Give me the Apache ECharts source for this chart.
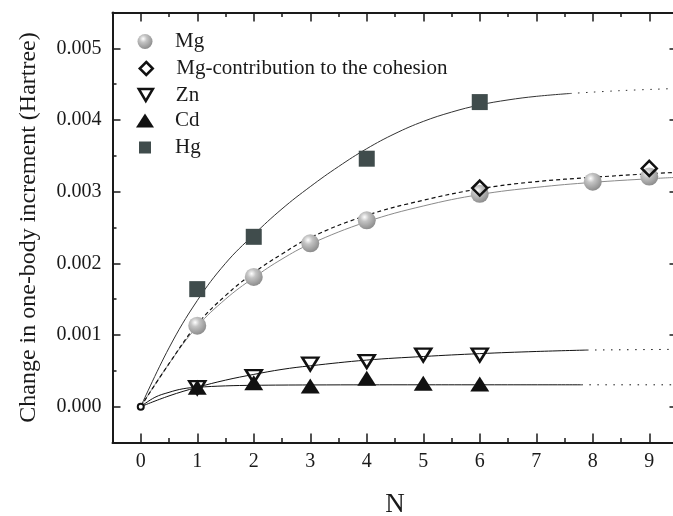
<!DOCTYPE html>
<html>
<head>
<meta charset="utf-8">
<script src="https://cdn.jsdelivr.net/npm/echarts@6/dist/echarts.min.js"></script>
<style>
html, body { margin: 0; padding: 0; background: #fff; }
#main { width: 673px; height: 516px; }
</style>
</head>
<body>
<div id="main"></div>
<script>
// tick values
const xTicks = [0, 1, 2, 3, 4, 5, 6, 7, 8, 9];
const yTicks = [0, 0.001, 0.002, 0.003, 0.004, 0.005];

// measured points
const mgX = [1, 2, 3, 4, 6, 8, 9];
const mgY = [0.00113, 0.00181, 0.00228, 0.0026, 0.00297, 0.00314, 0.00321];
const cohX = [6, 9];
const cohY = [0.00305, 0.003325];
const znX = [1, 2, 3, 4, 5, 6];
const znY = [0.000265, 0.00042, 0.000595, 0.00063, 0.00072, 0.00072];
const cdX = [1, 2, 3, 4, 5, 6];
const cdY = [0.00027, 0.000335, 0.00029, 0.000396, 0.000326, 0.000317];
const hgX = [1, 2, 4, 6];
const hgY = [0.00164, 0.00237, 0.00346, 0.00425];
const originX = [0];
const originY = [0];

// fitted curves
const hgFitX = [0, 0.5, 1, 1.5, 2, 2.5, 3, 3.5, 4, 4.5, 5, 5.5, 6, 6.5, 7, 7.6];
const hgFitY = [0, 0.00082, 0.00148, 0.002, 0.0024, 0.00276, 0.00307, 0.00335, 0.0036, 0.00381, 0.00398, 0.00411, 0.00421, 0.00428, 0.00433, 0.00437];
const hgTailX = [7.6, 8.5, 9.5];
const hgTailY = [0.00437, 0.00441, 0.00444];

const mgFitX = [0, 0.5, 1, 1.5, 2, 2.5, 3, 4, 5, 6, 7, 8, 9, 9.5];
const mgFitY = [0, 0.0006, 0.00112, 0.0015, 0.0018, 0.00206, 0.00227, 0.00258, 0.0028, 0.00296, 0.00306, 0.00313, 0.00318, 0.0032];
const cohFitX = [0, 0.5, 1, 1.5, 2, 2.5, 3, 4, 5, 6, 7, 8, 9, 9.5];
const cohFitY = [0, 0.0006, 0.00115, 0.00155, 0.00187, 0.00213, 0.00236, 0.00267, 0.00288, 0.00304, 0.00314, 0.0032, 0.00325, 0.00327];

const znFitX = [0, 0.5, 1, 1.5, 2, 2.5, 3, 4, 5, 6, 7, 7.9];
const znFitY = [0, 0.00015, 0.00027, 0.00037, 0.00045, 0.00052, 0.00057, 0.00065, 0.0007, 0.00074, 0.00077, 0.00079];
const znTailX = [7.9, 9.5];
const znTailY = [0.00079, 0.0008];

const cdFitX = [0, 0.25, 0.5, 0.75, 1, 1.5, 2, 3, 5, 7.8];
const cdFitY = [0, 0.00013, 0.0002, 0.00025, 0.00027, 0.00029, 0.000298, 0.000303, 0.000305, 0.000305];
const cdTailX = [7.8, 9.5];
const cdTailY = [0.000305, 0.000305];

const FONT = 'Liberation Serif, Times New Roman, serif';
const INK = '#1a1a1a';

function pts(xs, ys) {
    return xs.map((x, i) => [x, ys[i]]);
}

let chart = echarts.init(document.getElementById('main'));

const sphere = new echarts.graphic.RadialGradient(0.38, 0.32, 0.68, [
    { offset: 0, color: '#ffffff' },
    { offset: 0.35, color: '#c4c4c4' },
    { offset: 1, color: '#8e8e8e' }
]);

function axisX(pos, major) {
    return {
        type: 'value', position: pos, min: -0.5, max: 9.5, interval: 0.5,
        axisLine: { show: !major, onZero: false, lineStyle: { color: INK, width: 2 } },
        axisTick: major
            ? { inside: true, length: 9, customValues: xTicks, lineStyle: { color: INK, width: 1.5 } }
            : { inside: true, length: 4.5, lineStyle: { color: INK, width: 1.5 } },
        axisLabel: (major && pos === 'bottom')
            ? { customValues: xTicks, margin: 9, fontFamily: FONT, fontSize: 20, color: INK }
            : { show: false },
        splitLine: { show: false },
        name: (major && pos === 'bottom') ? 'N' : '',
        nameLocation: 'middle', nameGap: 49,
        nameTextStyle: { fontFamily: FONT, fontSize: 27, color: INK }
    };
}

function axisY(pos, major) {
    return {
        type: 'value', position: pos, min: -0.0005, max: 0.0055, interval: 0.0005,
        axisLine: { show: !major, onZero: false, lineStyle: { color: INK, width: 2 } },
        axisTick: major
            ? { inside: true, length: 8, customValues: yTicks, lineStyle: { color: INK, width: 1.5 } }
            : { inside: true, length: 4, lineStyle: { color: INK, width: 1.5 } },
        axisLabel: (major && pos === 'left')
            ? { customValues: yTicks, margin: 11, fontFamily: FONT, fontSize: 20, color: INK,
                formatter: v => v.toFixed(3) }
            : { show: false },
        splitLine: { show: false },
        name: (major && pos === 'left') ? 'Change in one-body increment (Hartree)' : '',
        nameLocation: 'middle', nameGap: 72, nameRotate: 90,
        nameTextStyle: { fontFamily: FONT, fontSize: 24, color: INK }
    };
}

function legendAt(name, cy, w, h, border) {
    return {
        data: [name], left: 145 - w / 2, top: cy - h / 2, padding: 0,
        itemWidth: w, itemHeight: h, selectedMode: false,
        itemStyle: { borderWidth: border },
        textStyle: { fontFamily: FONT, fontSize: 21, color: INK,
            padding: [0, 0, 0, 175 - (145 + w / 2 + 5)] }
    };
}

function curve(xs, ys, color, type, width) {
    return {
        type: 'line', data: pts(xs, ys), smooth: 0.4,
        showSymbol: false, symbol: 'none', silent: true, z: 1,
        lineStyle: { color: color, width: width || 1, type: type || 'solid' }
    };
}

const dots = [1.5, 6.5];

let option = {
    animation: false,
    backgroundColor: '#fff',
    grid: { left: 112.5, top: 12.5, width: 565, height: 430, containLabel: false, outerBoundsMode: 'none' },
    xAxis: [axisX('bottom', false), axisX('bottom', true), axisX('top', false), axisX('top', true)],
    yAxis: [axisY('left', false), axisY('left', true), axisY('right', false), axisY('right', true)],
    legend: [
        legendAt('Mg', 38.5, 15, 15, 0),
        legendAt('Mg-contribution to the cohesion', 64.5, 13, 13, 2.5),
        legendAt('Zn', 90.5, 15, 12, 2.5),
        legendAt('Cd', 117, 18, 14, 0),
        legendAt('Hg', 143, 12, 12, 0)
    ],
    series: [
        curve(hgFitX, hgFitY, '#333'),
        curve(hgTailX, hgTailY, '#333', dots),
        curve(mgFitX, mgFitY, '#8a8a8a'),
        curve(cohFitX, cohFitY, '#111', [4, 3], 1.2),
        curve(znFitX, znFitY, '#111'),
        curve(znTailX, znTailY, '#111', dots),
        curve(cdFitX, cdFitY, '#111'),
        curve(cdTailX, cdTailY, '#111', dots),
        {
            name: 'Mg', type: 'scatter', data: pts(mgX, mgY), z: 3,
            symbol: 'circle', symbolSize: 18,
            itemStyle: { color: sphere, opacity: 1 }
        },
        {
            name: 'Hg', type: 'scatter', data: pts(hgX, hgY), z: 3,
            symbol: 'rect', symbolSize: 16,
            itemStyle: { color: '#404c4c', opacity: 1 }
        },
        {
            name: 'Cd', type: 'scatter', data: pts(cdX, cdY), z: 3,
            symbol: 'triangle', symbolSize: [19, 15],
            itemStyle: { color: '#111', opacity: 1 }
        },
        {
            name: 'Zn', type: 'scatter', data: pts(znX, znY), z: 4,
            symbol: 'path://M0,0 L10,0 L5,8.5 Z', symbolSize: [16, 13],
            itemStyle: { color: 'rgba(255,255,255,0)', borderColor: '#111', borderWidth: 2.5, opacity: 1 }
        },
        {
            name: 'Mg-contribution to the cohesion', type: 'scatter', data: pts(cohX, cohY), z: 4,
            symbol: 'diamond', symbolSize: 15,
            itemStyle: { color: 'rgba(255,255,255,0)', borderColor: '#111', borderWidth: 2.5, opacity: 1 }
        },
        {
            type: 'scatter', data: pts(originX, originY), z: 5,
            symbol: 'circle', symbolSize: 6,
            itemStyle: { color: '#fff', borderColor: '#111', borderWidth: 2, opacity: 1 }
        }
    ]
};

chart.setOption(option);

window.onresize = () => {
    chart.resize();
};
</script>
</body>
</html>
